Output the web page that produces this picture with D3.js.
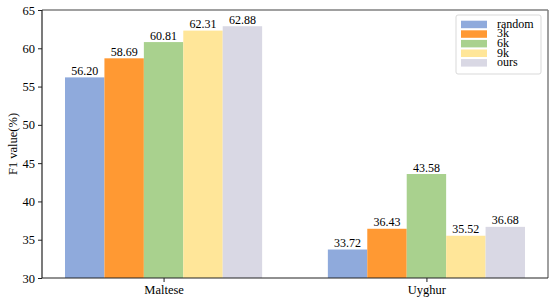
<!DOCTYPE html>
<html><head><meta charset="utf-8">
<script src="https://cdn.jsdelivr.net/npm/d3@7"></script>
<style>body{margin:0;background:#fff}</style>
</head><body><svg id="c" width="555" height="301"></svg>
<script>
const languages = ["Maltese", "Uyghur"];
const seriesNames = ["random", "3k", "6k", "9k", "ours"];
const randomVals = [56.20, 33.72];
const k3Vals = [58.69, 36.43];
const k6Vals = [60.81, 43.58];
const k9Vals = [62.31, 35.52];
const oursVals = [62.88, 36.68];
const colors = ["#8faadc", "#ff9933", "#a9d18e", "#ffe699", "#d9d8e4"];
const yTicks = [30, 35, 40, 45, 50, 55, 60, 65];

const FONT = "Liberation Serif";
const series = [randomVals, k3Vals, k6Vals, k9Vals, oursVals];
const svg = d3.select("#c");
const L = 42, R = 548, T = 10, B = 278;
const barW = 0.15;
const x = d3.scaleLinear().domain([-0.4625, 1.4625]).range([L, R]);
const y = d3.scaleLinear().domain([30, 65]).range([B, T]);

// bars
series.forEach((vals, si) => {
  vals.forEach((v, gi) => {
    const cx = gi + (si - 2) * barW;
    const x0 = x(cx - barW / 2), x1 = x(cx + barW / 2);
    svg.append("rect").attr("x", x0).attr("y", y(v)).attr("width", x1 - x0).attr("height", y(30) - y(v)).attr("fill", colors[si]);
    svg.append("text").attr("x", (x0 + x1) / 2).attr("y", y(v) - 2.5).attr("text-anchor", "middle")
      .attr("font-family", FONT).attr("font-size", 12).attr("fill", "#000").text(v.toFixed(2));
  });
});

// spines
svg.append("line").attr("x1", L).attr("x2", R).attr("y1", T).attr("y2", T).attr("stroke", "#808080").attr("stroke-width", 1.5);
svg.append("line").attr("x1", R).attr("x2", R).attr("y1", T).attr("y2", B).attr("stroke", "#808080").attr("stroke-width", 1.5);

const yAxis = svg.append("g").attr("transform", `translate(${L},0)`)
  .call(d3.axisLeft(y).tickValues(yTicks).tickSize(4).tickPadding(3));
const xAxis = svg.append("g").attr("transform", `translate(0,${B})`)
  .call(d3.axisBottom(x).tickValues([0, 1]).tickFormat((d, i) => languages[i]).tickSize(4).tickPadding(3));
[yAxis, xAxis].forEach(g => {
  g.attr("font-family", FONT);
  g.selectAll("text").attr("font-size", 12.5).attr("fill", "#000").attr("font-family", FONT);
  g.selectAll("line").attr("stroke", "#222");
  g.select(".domain").attr("stroke", "#222").attr("stroke-width", 1.2);
});
yAxis.select(".domain").attr("d", `M0,${T}V${B}`);
xAxis.select(".domain").attr("d", `M${L},0H${R}`);

svg.append("text").attr("transform", `translate(17,${(T + B) / 2}) rotate(-90)`).attr("text-anchor", "middle")
  .attr("font-family", FONT).attr("font-size", 12.5).attr("fill", "#000").text("F1 value(%)");

// legend
const lg = svg.append("g");
lg.append("rect").attr("x", 456).attr("y", 15).attr("width", 85).attr("height", 59).attr("rx", 2)
  .attr("fill", "#fff").attr("stroke", "#d9d9d9").attr("stroke-width", 1);
seriesNames.forEach((n, i) => {
  const yy = 20.7 + i * 9.6;
  lg.append("rect").attr("x", 461).attr("y", yy).attr("width", 26).attr("height", 7.5).attr("fill", colors[i]);
  lg.append("text").attr("x", 497).attr("y", yy + 7).attr("font-family", FONT).attr("font-size", 12).attr("fill", "#000").text(n);
});
</script></body></html>
